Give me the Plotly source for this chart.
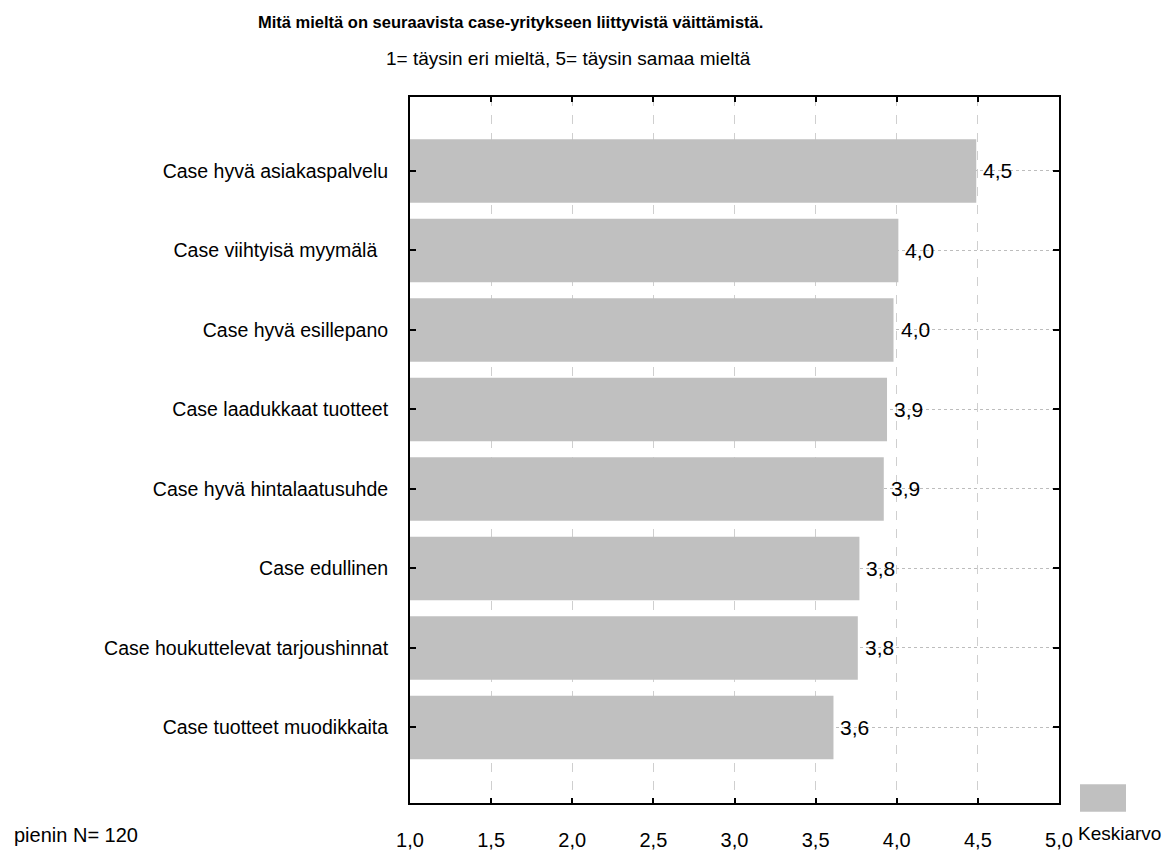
import plotly.graph_objects as go

# Survey statements (top to bottom) and their mean scores on a 1-5 scale
statements = [
    "Case hyvä asiakaspalvelu",
    "Case viihtyisä myymälä\u00a0\u00a0",
    "Case hyvä esillepano",
    "Case laadukkaat tuotteet",
    "Case hyvä hintalaatusuhde",
    "Case edullinen",
    "Case houkuttelevat tarjoushinnat",
    "Case tuotteet muodikkaita",
]
means = [4.49, 4.01, 3.98, 3.94, 3.92, 3.77, 3.76, 3.61]
x_ticks = [1.0, 1.5, 2.0, 2.5, 3.0, 3.5, 4.0, 4.5, 5.0]

title_text = "Mitä mieltä on seuraavista case-yritykseen liittyvistä väittämistä."
subtitle_text = "1= täysin eri mieltä, 5= täysin samaa mieltä"
note_text = "pienin N= 120"
legend_text = "Keskiarvo"

FONT = "Liberation Sans Narrow, Arial Narrow, Liberation Sans, Arial, sans-serif"
BAR_COLOR = "#c0c0c0"

W, H = 1171, 863
L, R, T, B = 410, 112, 97, 49
PW, PH = W - L - R, H - T - B


def px_x(p):
    return (p - L) / PW


def px_y(p):
    return (H - B - p) / PH


fig = go.Figure()
fig.add_trace(go.Bar(
    x=means,
    y=statements,
    orientation="h",
    marker=dict(color=BAR_COLOR, line=dict(width=0)),
    width=0.8,
    name=legend_text,
    showlegend=False,
    hoverinfo="x+y",
))

# value labels to the right of each bar
for s, v in zip(statements, means):
    fig.add_annotation(
        x=v, y=s, xref="x", yref="y",
        text=f"{v:.1f}".replace(".", ","),
        showarrow=False, xanchor="left", yanchor="middle", xshift=5,
        font=dict(family=FONT, size=21, color="#000000"),
    )

# titles
fig.add_annotation(
    x=px_x(510), y=px_y(21), xref="paper", yref="paper",
    text=f"<b>{title_text}</b>", showarrow=False,
    xanchor="center", yanchor="middle",
    font=dict(family=FONT, size=16.5, color="#000000"),
)
fig.add_annotation(
    x=px_x(568), y=px_y(58), xref="paper", yref="paper",
    text=subtitle_text, showarrow=False,
    xanchor="center", yanchor="middle",
    font=dict(family=FONT, size=19, color="#000000"),
)

# sample size note
fig.add_annotation(
    x=px_x(12), y=px_y(847), xref="paper", yref="paper",
    text=note_text, showarrow=False,
    xanchor="left", yanchor="middle",
    font=dict(family=FONT, size=20, color="#000000"),
)

# legend swatch and label
fig.add_shape(
    type="rect", xref="paper", yref="paper",
    x0=px_x(1080), x1=px_x(1126), y0=px_y(823), y1=px_y(795),
    fillcolor=BAR_COLOR, line=dict(width=0),
)
fig.add_annotation(
    x=px_x(1076), y=px_y(845), xref="paper", yref="paper",
    text=legend_text, showarrow=False,
    xanchor="left", yanchor="middle",
    font=dict(family=FONT, size=19, color="#000000"),
)

fig.update_layout(
    width=W, height=H,
    margin=dict(l=L, r=R, t=T, b=B, pad=0),
    paper_bgcolor="#ffffff",
    plot_bgcolor="#ffffff",
    separators=", ",
    showlegend=False,
    bargap=0.2,
    font=dict(family=FONT, size=20, color="#000000"),
)

fig.update_xaxes(
    range=[1.0, 5.0],
    tickvals=x_ticks,
    tickformat=".1f",
    showline=True, linecolor="#000000", linewidth=2, mirror="ticks",
    ticks="inside", ticklen=5, tickwidth=2, tickcolor="#000000",
    showgrid=True, gridcolor="#cfcfcf", gridwidth=1, griddash="dash",
    zeroline=False,
    tickfont=dict(family=FONT, size=20, color="#000000"),
    ticklabelstandoff=18,
)
fig.update_yaxes(
    type="category",
    categoryorder="array", categoryarray=statements,
    range=[7.95, -0.93],
    showline=True, linecolor="#000000", linewidth=2, mirror="ticks",
    ticks="inside", ticklen=6, tickwidth=2, tickcolor="#000000",
    showgrid=True, gridcolor="#bdbdbd", gridwidth=1, griddash="dot",
    zeroline=False,
    tickfont=dict(family=FONT, size=19.5, color="#000000"),
    ticklabelstandoff=16,
)

fig.write_html("out.html")
